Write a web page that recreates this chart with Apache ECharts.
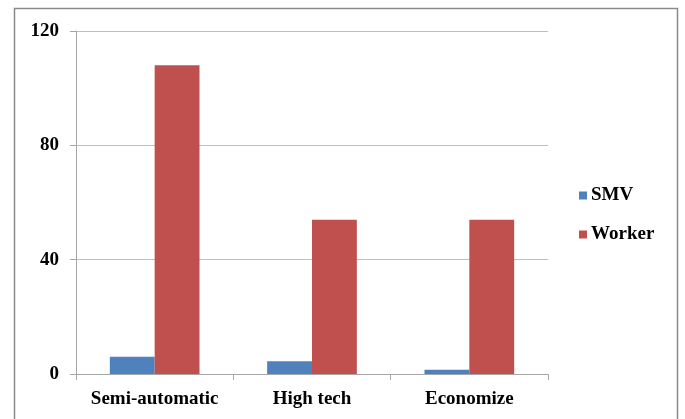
<!DOCTYPE html>
<html><head><meta charset="utf-8">
<script src="https://cdn.jsdelivr.net/npm/echarts@6/dist/echarts.min.js"></script>
<style>html,body{margin:0;padding:0;background:#fff}#c{width:685px;height:419px}</style>
</head><body><div id="c"></div>
<script>
const categories = ['Semi-automatic', 'High tech', 'Economize'];
const smv = [6, 4.5, 1.5];
const worker = [108, 54, 54];
const yTicks = [0, 40, 80, 120];

const chart = echarts.init(document.getElementById('c'));
const font = '"Liberation Serif", "Times New Roman", serif';
chart.setOption({
  animation: false,
  graphic: [{type:'rect', shape:{x:14.5, y:8.5, width:663, height:430}, style:{fill:'none', stroke:'#8a8a8a', lineWidth:1.5}, silent:true}],
  legend: {
    orient: 'vertical', left: 574, top: 181, itemGap: 20,
    itemWidth: 8, itemHeight: 8, icon: 'rect',
    textStyle: {fontFamily: font, fontWeight: 'bold', fontSize: 19, color: '#000', padding:[0,0,0,-1]},
    data: ['SMV', 'Worker']
  },
  grid: {left: 76, right: 137, top: 31, bottom: 45},
  xAxis: {
    type: 'category', data: categories,
    axisLine: {lineStyle: {color: '#a6a6a6', width: 1}},
    axisTick: {show: true, interval: 0, length: 6, lineStyle: {color: '#a6a6a6'}},
    axisLabel: {interval: 0, hideOverlap: false, fontFamily: font, fontWeight: 'bold', fontSize: 19, color: '#000', margin: 16}
  },
  yAxis: {
    type: 'value', min: 0, max: 120, interval: 40,
    axisLine: {show: true, lineStyle: {color: '#a6a6a6'}},
    axisTick: {show: true, length: 6, lineStyle: {color: '#a6a6a6'}},
    splitLine: {lineStyle: {color: '#bfbfbf'}},
    axisLabel: {fontFamily: font, fontWeight: 'bold', fontSize: 19, color: '#000', margin: 17,
      formatter: v => yTicks.includes(v) ? String(v) : ''}
  },
  series: [
    {name: 'SMV', type: 'bar', data: smv, barGap: '0%', barCategoryGap: '43%', itemStyle: {color: '#4F81BD'}},
    {name: 'Worker', type: 'bar', data: worker, barGap: '0%', barCategoryGap: '43%', itemStyle: {color: '#C0504D'}}
  ]
});
</script></body></html>
